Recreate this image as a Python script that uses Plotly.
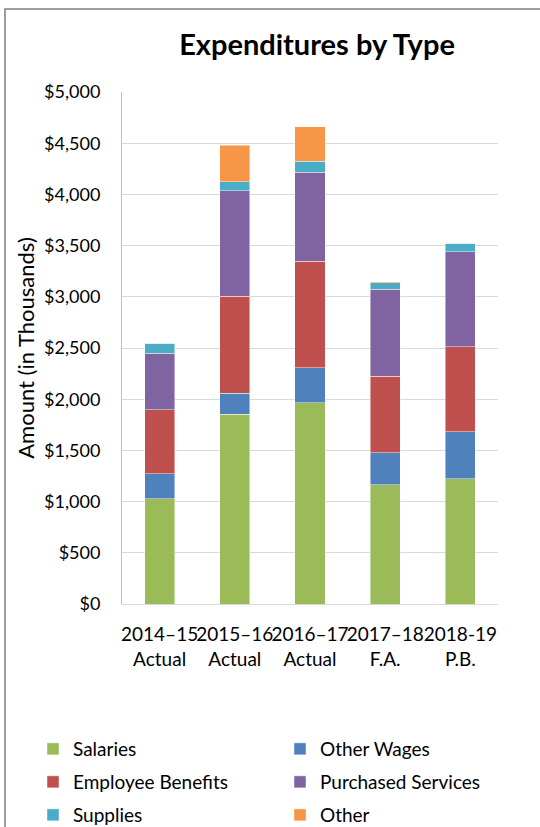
import plotly.graph_objects as go

categories = ["2014–15<br>Actual", "2015–16<br>Actual", "2016–17<br>Actual", "2017–18<br>F.A.", "2018-19<br>P.B."]
salaries = [1030, 1854, 1965, 1165, 1221]
other_wages = [240, 205, 341, 312, 461]
employee_benefits = [627, 946, 1040, 748, 832]
purchased_services = [550, 1033, 868, 851, 926]
supplies = [100, 88, 110, 59, 85]
other = [0, 354, 335, 10, 0]

series = [
    ("Salaries", salaries, "#9BBB59", "legend"),
    ("Other Wages", other_wages, "#4F81BD", "legend"),
    ("Employee Benefits", employee_benefits, "#C0504D", "legend2"),
    ("Purchased Services", purchased_services, "#8064A2", "legend2"),
    ("Supplies", supplies, "#4BACC6", "legend3"),
    ("Other", other, "#F79646", "legend3"),
]

FONT = "Lato"
W, H = 540, 827
L, R, T, B = 122, 42, 92, 223
PW, PH = W - L - R, H - T - B

def px_x(px):
    return (px - L) / PW

def px_y(py):
    return (H - B - py) / PH

fig = go.Figure()
for name, vals, color, lg in series:
    fig.add_trace(go.Bar(
        x=categories, y=vals, name=name, legend=lg,
        marker=dict(color=color, line=dict(color="rgba(255,255,255,0.55)", width=0.8)),
        width=0.4,
    ))

legend_common = dict(
    orientation="h", xanchor="left", yanchor="middle",
    entrywidth=202, entrywidthmode="pixels",
    font=dict(family=FONT, size=19, color="#000000"),
    bgcolor="rgba(0,0,0,0)", borderwidth=0, traceorder="normal",
)

fig.update_layout(
    width=W, height=H,
    margin=dict(l=L, r=R, t=T, b=B, autoexpand=False),
    barmode="stack",
    paper_bgcolor="white", plot_bgcolor="white",
    font=dict(family=FONT, size=19, color="#000000"),
    title=dict(text="<b>Expenditures by Type</b>", xref="container", x=317 / W, xanchor="center",
               yref="container", y=1 - 45 / H, yanchor="middle",
               font=dict(family=FONT, size=29, color="#000000")),
    yaxis=dict(range=[0, 5000], dtick=500, tickprefix="$", tickformat=",",
               showgrid=True, gridcolor="#d9d9d9", gridwidth=1,
               showline=True, linecolor="#bfbfbf", linewidth=1,
               zeroline=False, ticks="", ticklabelstandoff=17,
               tickfont=dict(family=FONT, size=18, color="#000000"),
               title=dict(text="Amount (in Thousands)", standoff=3,
                          font=dict(family=FONT, size=22, color="#000000"))),
    xaxis=dict(showline=True, linecolor="#d9d9d9", linewidth=1, ticks="",
               ticklabelstandoff=13, tickangle=0,
               tickfont=dict(family=FONT, size=19, color="#000000")),
    legend=dict(legend_common, x=px_x(33), y=px_y(749)),
    legend2=dict(legend_common, x=px_x(33), y=px_y(782)),
    legend3=dict(legend_common, x=px_x(33), y=px_y(815)),
    shapes=[dict(type="rect", xref="paper", yref="paper",
                 x0=px_x(5), x1=px_x(548), y0=px_y(840), y1=px_y(9),
                 line=dict(color="#7f7f7f", width=1.5), fillcolor="rgba(0,0,0,0)", layer="below")],
)

fig.write_html("out.html", config={"displayModeBar": False},
               post_script="document.body.style.margin='0';document.body.style.overflow='hidden';")
